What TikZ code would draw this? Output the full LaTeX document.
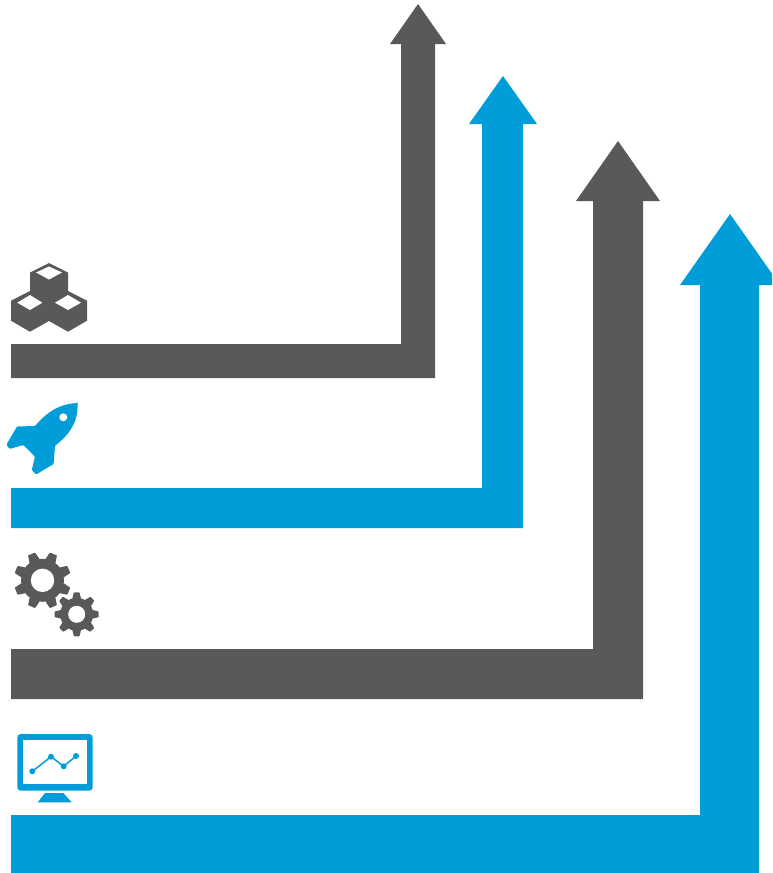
\documentclass[tikz,border=0pt]{standalone}
\definecolor{darkgrey}{HTML}{595959}
\definecolor{skyblue}{HTML}{009DD9}
\tikzset{
  darkfill/.style={fill=darkgrey,draw=none},
  bluefill/.style={fill=skyblue,draw=none},
  hole/.style={fill=white,draw=none}
}
\begin{document}
\begin{tikzpicture}[x=1pt,y=-1pt]
\useasboundingbox (0,0) rectangle (772,873);
\clip (0,0) rectangle (772,873);
% arrows
\fill[darkfill] (11,344) -- (401,344) -- (401,44) -- (390,44) -- (418,4) -- (446,44) -- (435,44) -- (435,378) -- (11,378) -- cycle;
\fill[bluefill] (11,488) -- (482,488) -- (482,124) -- (469,124) -- (503,76) -- (537,124) -- (523,124) -- (523,528) -- (11,528) -- cycle;
\fill[darkfill] (11,649) -- (593,649) -- (593,201) -- (576,201) -- (618,141) -- (660,201) -- (643,201) -- (643,699) -- (11,699) -- cycle;
\fill[bluefill] (11,815) -- (700,815) -- (700,285) -- (680,285) -- (730,214) -- (780,285) -- (759,285) -- (759,873) -- (11,873) -- cycle;
% cubes
\fill[darkfill] (49,263) -- (68,272.5) -- (68,291) -- (87,300.7) -- (87,320.7) -- (68,331.7) -- (49,321) -- (30,331.7) -- (11,320.7) -- (11,300.7) -- (30,291) -- (30,272.5) -- cycle;
\fill[hole] (36,272.5) -- (49,266.5) -- (62,272.5) -- (49,279.5) -- cycle;
\fill[hole] (17.3,302.7) -- (30,295) -- (42.3,302.7) -- (30,310) -- cycle;
\fill[hole] (55,302.7) -- (68,295) -- (81,302.7) -- (68,310) -- cycle;
% rocket
\fill[bluefill,rounded corners=1pt] (77.6,403) .. controls (60,404) and (48,411) .. (35,426) -- (17,426.5) -- (6.5,444.5) -- (9.5,449) -- (23.3,445) -- (35,456.7) -- (31.8,470) -- (36,474.5) -- (53.6,464) -- (55,445.7) .. controls (70,434) and (78,422) .. cycle;
\fill[hole] (63.3,417.3) circle (4);
% gears
\foreach \cx/\cy/\rb/\rt/\rh/\tw/\off in {42.5/580.3/21.5/28.5/11.7/4.6/22.5, 76.7/614.3/16.5/22/8.5/3.6/0}{
  \fill[darkfill] (\cx,\cy) circle (\rb);
  \foreach \a in {0,45,...,315}{
    \begin{scope}[shift={(\cx,\cy)},rotate=\a+\off]
      \fill[darkfill,rounded corners=0.6pt] (\rb-1,-\tw-0.8) -- (\rt,-\tw+0.8) -- (\rt,\tw-0.8) -- (\rb-1,\tw+0.8) -- cycle;
    \end{scope}
  }
  \fill[hole] (\cx,\cy) circle (\rh);
}
% monitor
\fill[bluefill,rounded corners=3.5pt] (17.3,734) rectangle (92.7,790.7);
\fill[hole] (23.3,740) rectangle (86.7,784.3);
\fill[bluefill] (45,793) -- (63.3,793) -- (71.7,802.3) -- (37.7,802.3) -- cycle;
\draw[skyblue,line width=1.5pt] (32.3,771.3) -- (51,756.7) -- (63.7,766.3) -- (76,756);
\foreach \p in {(32.3,771.3),(51,756.7),(63.7,766.3),(76,756)} \fill[bluefill] \p circle (3);
\end{tikzpicture}
\end{document}
